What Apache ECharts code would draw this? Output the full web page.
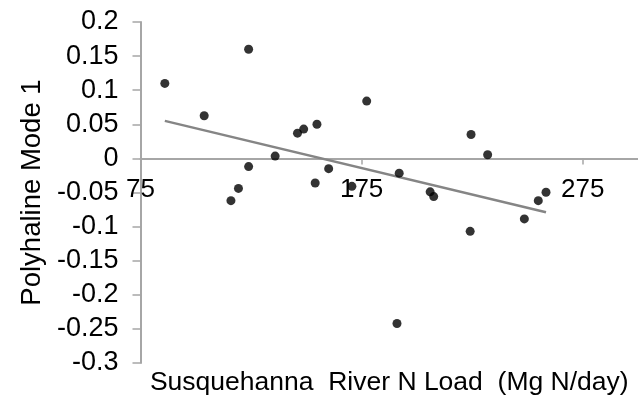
<!DOCTYPE html>
<html>
<head>
<meta charset="utf-8">
<script src="https://cdn.jsdelivr.net/npm/echarts@6/dist/echarts.min.js"></script>
<style>
html,body{margin:0;padding:0;background:#fff;}
#chart{width:638px;height:399px;}
</style>
</head>
<body>
<div id="chart"></div>
<script>
// Susquehanna River N Load (Mg N/day)
var loadX = [86.0, 103.8, 123.9, 123.9, 119.3, 115.9, 135.9, 146.0, 148.8, 154.8, 154.0, 160.1, 170.6, 177.3, 192.0, 206.0, 207.6, 224.5, 232.0, 224.1, 248.6, 254.9, 258.4, 191.0];
// Polyhaline Mode 1
var modeY = [0.110, 0.0625, 0.160, -0.012, -0.044, -0.062, 0.0034, 0.037, 0.043, 0.050, -0.036, -0.015, -0.041, 0.084, -0.0216, -0.049, -0.056, 0.035, 0.0054, -0.107, -0.0887, -0.062, -0.0496, -0.242];
// trend line end points
var trendX = [86.0, 258.4];
var trendY = [0.055, -0.079];
var xTicks = [75, 175, 275];

var pts = loadX.map(function (x, i) { return [x, modeY[i]]; });
var trend = trendX.map(function (x, i) { return [x, trendY[i]]; });

var chart = echarts.init(document.getElementById('chart'), null, {renderer: 'canvas'});
var font = 'Liberation Sans, Arial, sans-serif';
var gridTop = 22, gridBottom = 36, yMin = -0.3, yMax = 0.2;
var plotH = 399 - gridTop - gridBottom;
// shift the x axis up so that it crosses the y axis at value 0
var zeroOffset = -plotH * (0 - yMin) / (yMax - yMin);
chart.setOption({
  animation: false,
  backgroundColor: '#ffffff',
  grid: {left: 140.5, right: 0, top: gridTop, bottom: gridBottom, containLabel: false, outerBoundsMode: 'none'},
  xAxis: {
    type: 'value', min: 75, max: 300, interval: 100,
    position: 'bottom', offset: zeroOffset,
    name: 'Susquehanna  River N Load  (Mg N/day)',
    nameLocation: 'middle', nameGap: 211,
    nameTextStyle: {fontFamily: font, fontSize: 26.5, color: '#000'},
    axisLine: {onZero: false, lineStyle: {color: '#a6a6a6', width: 2}},
    axisTick: {show: true, length: 6, customValues: xTicks, lineStyle: {color: '#a6a6a6', width: 1.5}},
    axisLabel: {customValues: xTicks, margin: 18, fontFamily: font, fontSize: 26, color: '#000'},
    splitLine: {show: false}
  },
  yAxis: {
    type: 'value', min: yMin, max: yMax, interval: 0.05,
    name: 'Polyhaline Mode 1',
    nameLocation: 'middle', nameGap: 93,
    nameTextStyle: {fontFamily: font, fontSize: 27.5, color: '#000'},
    axisLine: {show: true, onZero: false, lineStyle: {color: '#a6a6a6', width: 2}},
    axisTick: {show: true, length: 8, lineStyle: {color: '#a6a6a6', width: 1.5}},
    axisLabel: {margin: 22, fontFamily: font, fontSize: 27, color: '#000'},
    splitLine: {show: false}
  },
  series: [
    {
      type: 'line', data: trend, symbol: 'none', z: 2,
      lineStyle: {color: '#858585', width: 2.5}
    },
    {
      type: 'scatter', data: pts, symbol: 'circle', symbolSize: 9, z: 3,
      itemStyle: {color: '#000'}
    }
  ]
});
</script>
</body>
</html>
